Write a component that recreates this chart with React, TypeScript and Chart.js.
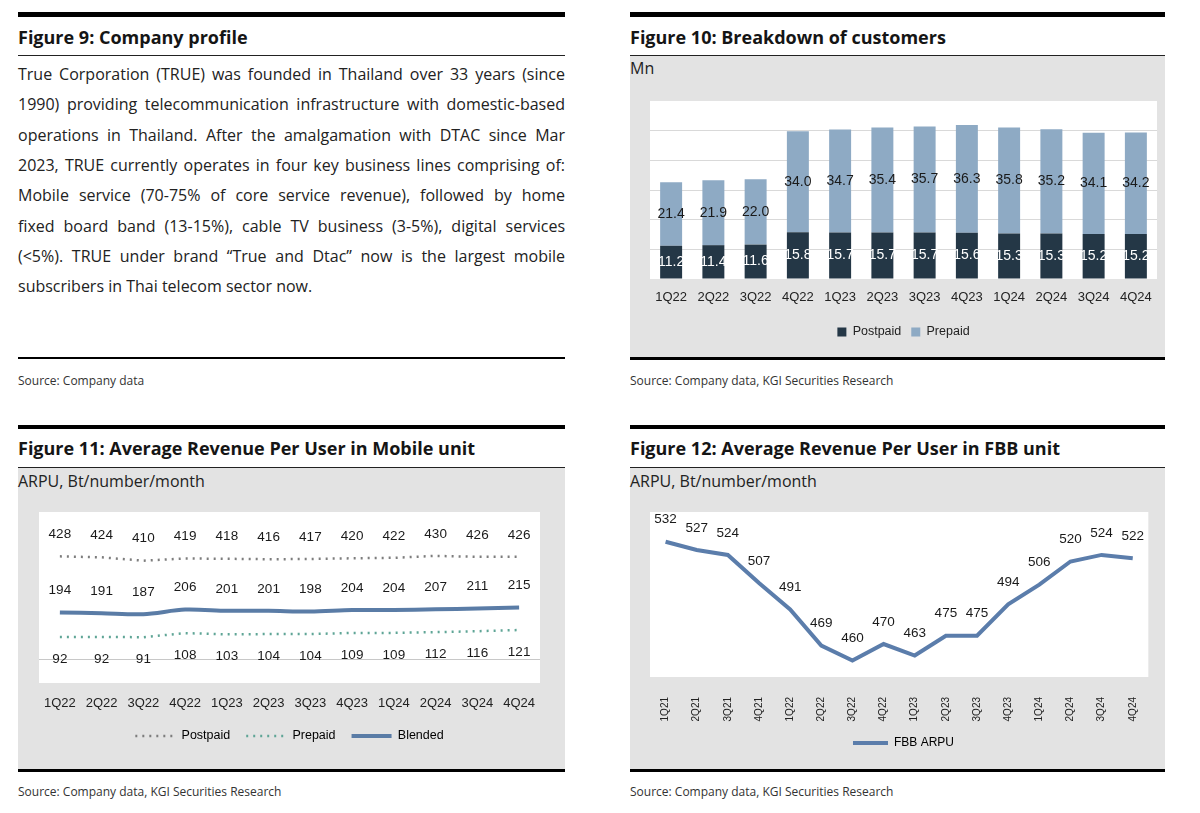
import React, { useEffect, useRef } from "react";
import { Chart, registerables } from "chart.js";

Chart.register(...registerables);

// ---------------- DATA ----------------
const customerQuarters = ["1Q22", "2Q22", "3Q22", "4Q22", "1Q23", "2Q23", "3Q23", "4Q23", "1Q24", "2Q24", "3Q24", "4Q24"];
const postpaidSubs = [11.2, 11.4, 11.6, 15.8, 15.7, 15.7, 15.7, 15.6, 15.3, 15.3, 15.2, 15.2];
const prepaidSubs = [21.4, 21.9, 22.0, 34.0, 34.7, 35.4, 35.7, 36.3, 35.8, 35.2, 34.1, 34.2];

const mobileQuarters = ["1Q22", "2Q22", "3Q22", "4Q22", "1Q23", "2Q23", "3Q23", "4Q23", "1Q24", "2Q24", "3Q24", "4Q24"];
const postpaidArpu = [428, 424, 410, 419, 418, 416, 417, 420, 422, 430, 426, 426];
const prepaidArpu = [92, 92, 91, 108, 103, 104, 104, 109, 109, 112, 116, 121];
const blendedArpu = [194, 191, 187, 206, 201, 201, 198, 204, 204, 207, 211, 215];

const fbbQuarters = ["1Q21", "2Q21", "3Q21", "4Q21", "1Q22", "2Q22", "3Q22", "4Q22", "1Q23", "2Q23", "3Q23", "4Q23", "1Q24", "2Q24", "3Q24", "4Q24"];
const fbbArpu = [532, 527, 524, 507, 491, 469, 460, 470, 463, 475, 475, 494, 506, 520, 524, 522];

const profileLines = [
  "True Corporation (TRUE) was founded in Thailand over 33 years (since",
  "1990) providing telecommunication infrastructure with domestic-based",
  "operations in Thailand. After the amalgamation with DTAC since Mar",
  "2023, TRUE currently operates in four key business lines comprising of:",
  "Mobile service (70-75% of core service revenue), followed by home",
  "fixed board band (13-15%), cable TV business (3-5%), digital services",
  "(<5%). TRUE under brand \u201cTrue and Dtac\u201d now is the largest mobile",
  "subscribers in Thai telecom sector now.",
];

// ---------------- STYLE ----------------
const CHART_FONT = "'Liberation Sans', Arial, sans-serif";
const SANS = "'Open Sans', 'Noto Sans', 'Liberation Sans', sans-serif";
const GRAY = "#e3e3e3";
const TEXT = "#1c1c1c";

Chart.defaults.font.family = CHART_FONT;

const plotBackground = {
  id: "plotBackground",
  beforeDraw(chart: any) {
    const { ctx, chartArea } = chart;
    ctx.save();
    ctx.fillStyle = "#ffffff";
    ctx.fillRect(chartArea.left, chartArea.top, chartArea.right - chartArea.left, chartArea.bottom - chartArea.top);
    ctx.restore();
  },
};

const valueLabels = {
  id: "valueLabels",
  afterDatasetsDraw(chart: any) {
    const ctx = chart.ctx;
    chart.data.datasets.forEach((ds: any, di: number) => {
      const cfg = ds.valueLabel;
      const meta = chart.getDatasetMeta(di);
      if (!cfg || meta.hidden) return;
      ctx.save();
      ctx.font = cfg.font;
      ctx.fillStyle = cfg.color;
      ctx.textAlign = "center";
      ctx.textBaseline = "middle";
      meta.data.forEach((el: any, i: number) => {
        const v = ds.data[i];
        const p = el.getProps(["x", "y", "base"], true);
        const y = cfg.mode === "center" ? (p.y + p.base) / 2 : p.y + cfg.offset;
        ctx.fillText(v.toFixed(cfg.decimals || 0), p.x, y);
      });
      ctx.restore();
    });
  },
};

const lineLegendLabels = (chart: any) =>
  chart.data.datasets.map((ds: any, i: number) => ({
    text: ds.label,
    strokeStyle: ds.borderColor,
    fillStyle: ds.borderColor,
    lineWidth: ds.borderWidth,
    lineDash: ds.borderDash || [],
    lineCap: "butt",
    pointStyle: "line",
    hidden: false,
    datasetIndex: i,
  }));

function ChartCanvas({ left, top, width, height, makeConfig }: any) {
  const ref = useRef<HTMLCanvasElement>(null);
  useEffect(() => {
    const chart = new Chart(ref.current as HTMLCanvasElement, makeConfig());
    return () => chart.destroy();
  }, []);
  return (
    <canvas
      ref={ref}
      width={width}
      height={height}
      style={{ position: "absolute", left, top, width, height, display: "block" }}
    />
  );
}

const customersConfig = (): any => ({
  type: "bar",
  data: {
    labels: customerQuarters,
    datasets: [
      {
        label: "Postpaid",
        data: postpaidSubs,
        backgroundColor: "#243746",
        categoryPercentage: 1,
        barPercentage: 0.52,
        valueLabel: { mode: "center", color: "#ffffff", font: `14px ${CHART_FONT}`, decimals: 1 },
      },
      {
        label: "Prepaid",
        data: prepaidSubs,
        backgroundColor: "#8eaac4",
        categoryPercentage: 1,
        barPercentage: 0.52,
        valueLabel: { mode: "center", color: "#1a1a1a", font: `14px ${CHART_FONT}`, decimals: 1 },
      },
    ],
  },
  options: {
    responsive: false,
    animation: false,
    layout: { autoPadding: false, padding: { left: 20, right: 8, top: 45, bottom: 8.75 } },
    scales: {
      x: {
        stacked: true,
        grid: { display: false, drawTicks: false },
        border: { display: false },
        ticks: { font: { family: CHART_FONT, size: 13 }, color: "#222", padding: 10.2, maxRotation: 0, autoSkip: false },
        afterFit: (s: any) => { s.height = 36.75; },
      },
      y: {
        stacked: true,
        min: 0,
        max: 60,
        ticks: { display: false, stepSize: 10 },
        grid: {
          drawTicks: false,
          color: (c: any) => (c.tick && c.tick.value > 0 && c.tick.value < 60 ? "#d9d9d9" : "rgba(0,0,0,0)"),
        },
        border: { display: false },
      },
    },
    plugins: {
      legend: {
        position: "bottom",
        labels: { boxWidth: 9, boxHeight: 9, padding: 10, color: "#222", font: { family: CHART_FONT, size: 12.5 } },
      },
      tooltip: { enabled: false },
    },
  },
  plugins: [plotBackground, valueLabels],
});

const mobileConfig = (): any => ({
  type: "line",
  data: {
    labels: mobileQuarters,
    datasets: [
      {
        label: "Postpaid",
        data: postpaidArpu,
        borderColor: "#7d7d7d",
        borderWidth: 2.5,
        borderDash: [2, 5],
        pointRadius: 0,
        fill: false,
        valueLabel: { offset: -22, color: "#1a1a1a", font: `13.5px ${CHART_FONT}` },
      },
      {
        label: "Prepaid",
        data: prepaidArpu,
        borderColor: "#5fa596",
        borderWidth: 2.5,
        borderDash: [2, 5],
        pointRadius: 0,
        fill: false,
        valueLabel: { offset: 22, color: "#1a1a1a", font: `13.5px ${CHART_FONT}` },
      },
      {
        label: "Blended",
        data: blendedArpu,
        borderColor: "#5a7ca6",
        borderWidth: 4,
        pointRadius: 0,
        tension: 0.3,
        fill: false,
        valueLabel: { offset: -22, color: "#1a1a1a", font: `13.5px ${CHART_FONT}` },
      },
    ],
  },
  options: {
    responsive: false,
    animation: false,
    layout: { autoPadding: false, padding: { left: 21, right: 25, top: 44, bottom: 16.75 } },
    scales: {
      x: {
        offset: true,
        grid: { display: false, drawTicks: false },
        border: { display: false },
        ticks: { font: { family: CHART_FONT, size: 13 }, color: "#222", padding: 12.2, maxRotation: 0, autoSkip: false },
        afterFit: (s: any) => { s.height = 30.75; },
      },
      y: {
        min: -100,
        max: 613,
        ticks: { display: false, stepSize: 100 },
        grid: {
          drawTicks: false,
          color: (c: any) => (c.tick && c.tick.value === 0 ? "#c8c8c8" : "rgba(0,0,0,0)"),
        },
        border: { display: false },
      },
    },
    plugins: {
      legend: {
        position: "bottom",
        labels: {
          usePointStyle: true,
          pointStyle: "line",
          pointStyleWidth: 40,
          padding: 16,
          color: "#222",
          font: { family: CHART_FONT, size: 12.5 },
          generateLabels: lineLegendLabels,
        },
      },
      tooltip: { enabled: false },
    },
  },
  plugins: [plotBackground, valueLabels],
});

const fbbConfig = (): any => ({
  type: "line",
  data: {
    labels: fbbQuarters,
    datasets: [
      {
        label: "FBB ARPU",
        data: fbbArpu,
        borderColor: "#5b7dab",
        borderWidth: 4,
        pointRadius: 0,
        tension: 0,
        fill: false,
        valueLabel: { offset: -22, color: "#1a1a1a", font: `13.5px ${CHART_FONT}` },
      },
    ],
  },
  options: {
    responsive: false,
    animation: false,
    layout: { autoPadding: false, padding: { left: 20, right: 8, top: 44, bottom: 10 } },
    scales: {
      x: {
        offset: true,
        grid: { display: false, drawTicks: false },
        border: { display: false },
        ticks: { font: { family: CHART_FONT, size: 10 }, color: "#222", padding: 20, minRotation: 90, maxRotation: 90, autoSkip: false },
        afterFit: (s: any) => { s.height = 50; },
      },
      y: { display: false, min: 450, max: 550 },
    },
    plugins: {
      legend: {
        position: "bottom",
        labels: {
          usePointStyle: true,
          pointStyle: "line",
          pointStyleWidth: 35,
          padding: 10,
          color: "#222",
          font: { family: CHART_FONT, size: 12 },
          generateLabels: lineLegendLabels,
        },
      },
      tooltip: { enabled: false },
    },
  },
  plugins: [plotBackground, valueLabels],
});

// ---------------- LAYOUT HELPERS ----------------
function Rect({ left, top, width, height, color }: any) {
  return <div style={{ position: "absolute", left, top, width, height, background: color }} />;
}

function Label({ left, cy, size, lh, weight, color, children, width }: any) {
  return (
    <div
      style={{
        position: "absolute",
        left,
        top: cy - lh / 2,
        width,
        fontFamily: SANS,
        fontSize: size,
        lineHeight: `${lh}px`,
        fontWeight: weight || 400,
        color: color || TEXT,
        whiteSpace: "nowrap",
      }}
    >
      {children}
    </div>
  );
}

function PanelFrame({ left, width, row, title, source, gray, sub }: any) {
  const r1 = row === 1;
  const barTop = r1 ? 12 : 425;
  const barH = r1 ? 5 : 4;
  const titleCy = r1 ? 37 : 448;
  const thinTop = r1 ? 55 : 467;
  const grayTop = r1 ? 56 : 468;
  const grayBottom = r1 ? 357 : 769;
  const srcCy = r1 ? 381 : 792;
  return (
    <>
      <Rect left={left} top={barTop} width={width} height={barH} color="#000" />
      <Label left={left} cy={titleCy} size={18} lh={24} weight={700} color="#151515">{title}</Label>
      <Rect left={left} top={thinTop} width={width} height={1} color="#222" />
      {gray && <Rect left={left} top={grayTop} width={width} height={grayBottom - grayTop} color={GRAY} />}
      {sub && <Label left={left} cy={r1 ? 68 : 481} size={16} lh={20} color="#222">{sub}</Label>}
      <Rect left={left} top={grayBottom} width={width} height={gray ? 3 : 2} color="#000" />
      <Label left={left} cy={srcCy} size={12} lh={16} color="#333">{source}</Label>
    </>
  );
}

export default function App() {
  const LX = 18;
  const LW = 547;
  const RX = 630;
  const RW = 535;
  return (
    <div style={{ position: "absolute", left: 0, top: 0, width: 1200, height: 813, background: "#fff", overflow: "hidden" }}>
      {/* Figure 9 */}
      <PanelFrame left={LX} width={LW} row={1} title="Figure 9: Company profile" source="Source: Company data" gray={false} />
      {profileLines.map((line, i) => (
        <div
          key={i}
          style={{
            position: "absolute",
            left: LX,
            top: 74 + i * 30.3 - 15,
            width: LW,
            fontFamily: SANS,
            fontSize: 16,
            lineHeight: "30px",
            color: "#222",
            textAlign: i < profileLines.length - 1 ? "justify" : "left",
            textAlignLast: i < profileLines.length - 1 ? "justify" : "left",
          } as any}
        >
          {line}
        </div>
      ))}

      {/* Figure 10 */}
      <PanelFrame left={RX} width={RW} row={1} title="Figure 10: Breakdown of customers" source="Source: Company data, KGI Securities Research" gray sub="Mn" />
      <ChartCanvas left={RX} top={56} width={RW} height={301} makeConfig={customersConfig} />

      {/* Figure 11 */}
      <PanelFrame left={LX} width={LW} row={2} title="Figure 11: Average Revenue Per User in Mobile unit" source="Source: Company data, KGI Securities Research" gray sub="ARPU, Bt/number/month" />
      <ChartCanvas left={LX} top={468} width={LW} height={301} makeConfig={mobileConfig} />

      {/* Figure 12 */}
      <PanelFrame left={RX} width={RW} row={2} title="Figure 12: Average Revenue Per User in FBB unit" source="Source: Company data, KGI Securities Research" gray sub="ARPU, Bt/number/month" />
      <ChartCanvas left={RX} top={468} width={RW} height={301} makeConfig={fbbConfig} />
    </div>
  );
}
